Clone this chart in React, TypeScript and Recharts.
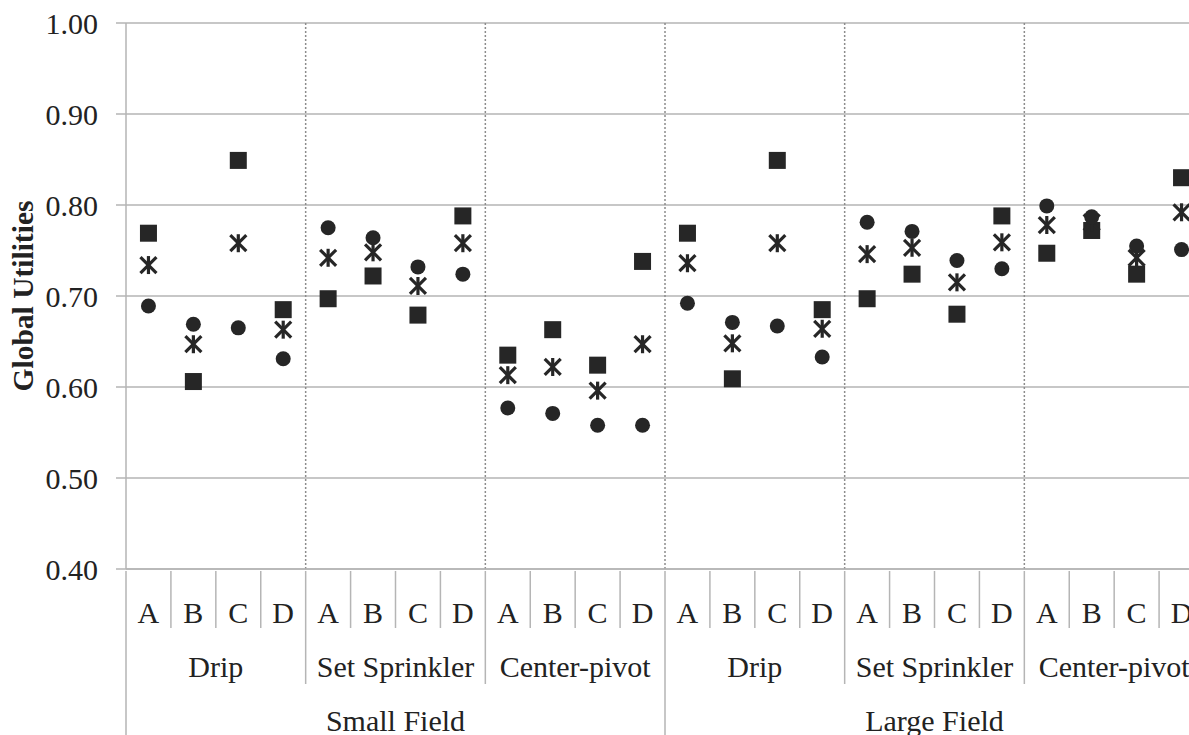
import { ComposedChart, Line, XAxis, YAxis, CartesianGrid } from 'recharts';

const fields = ['Small Field', 'Large Field'];
const systems = ['Drip', 'Set Sprinkler', 'Center-pivot'];
const options = ['A', 'B', 'C', 'D'];

// squares, stars and circles, read left to right (small field first)
const squareValues = [
  0.769, 0.606, 0.849, 0.685, 0.697, 0.722, 0.679, 0.788, 0.635, 0.663, 0.624, 0.738,
  0.769, 0.609, 0.849, 0.685, 0.697, 0.724, 0.680, 0.788, 0.747, 0.772, 0.724, 0.830,
];
const starValues = [
  0.734, 0.647, 0.758, 0.663, 0.742, 0.748, 0.711, 0.758, 0.613, 0.622, 0.596, 0.647,
  0.736, 0.648, 0.758, 0.664, 0.746, 0.753, 0.715, 0.759, 0.778, 0.781, 0.742, 0.792,
];
const circleValues = [
  0.689, 0.669, 0.665, 0.631, 0.775, 0.764, 0.732, 0.724, 0.577, 0.571, 0.558, 0.558,
  0.692, 0.671, 0.667, 0.633, 0.781, 0.771, 0.739, 0.730, 0.799, 0.787, 0.755, 0.751,
];
const yTicks = [0.4, 0.5, 0.6, 0.7, 0.8, 0.9, 1.0];

const data: any[] = [];
fields.forEach((f) =>
  systems.forEach((s) =>
    options.forEach((o) => {
      const i = data.length;
      data.push({
        key: `${f}|${s}|${o}`,
        field: f,
        system: s,
        option: o,
        square: squareValues[i],
        star: starValues[i],
        circle: circleValues[i],
      });
    })
  )
);

const W = 1210;
const H = 735;
const M = { top: 23, right: 6, left: 0, bottom: 0 };
const Y_W = 126;
const X_H = 166;
const band = (W - M.left - M.right - Y_W) / data.length;

const FONT = '"Liberation Serif", "Times New Roman", serif';
const INK = '#262626';
const GRID = '#b5b5b5';
const FS = 30;

const squareDot = (p: any) => (
  <rect key={`sq-${p.index}`} x={p.cx - 8.5} y={p.cy - 8.5} width={17} height={17} fill={INK} />
);
const circleDot = (p: any) => (
  <circle key={`ci-${p.index}`} cx={p.cx} cy={p.cy} r={7.5} fill={INK} />
);
const starDot = (p: any) => (
  <g key={`st-${p.index}`} stroke={INK} strokeWidth={3.2}>
    <line x1={p.cx - 8} y1={p.cy - 8} x2={p.cx + 8} y2={p.cy + 8} />
    <line x1={p.cx - 8} y1={p.cy + 8} x2={p.cx + 8} y2={p.cy - 8} />
    <line x1={p.cx} y1={p.cy - 9} x2={p.cx} y2={p.cy + 9} />
  </g>
);

function CategoryTick(props: any) {
  const { x, y, payload } = props;
  const i = payload.index;
  const d = data[i];
  const left = x - band / 2;
  let sepBottom = 57;
  if (i % 4 === 0) sepBottom = 113;
  if (i % 12 === 0) sepBottom = 170;
  return (
    <g>
      <line x1={left} y1={y} x2={left} y2={y + sepBottom} stroke={GRID} strokeWidth={1.5} />
      <text x={x} y={y + 52} textAnchor="middle" fontSize={FS} fontFamily={FONT} fill="#222">
        {d.option}
      </text>
      {i % 4 === 1 && (
        <text x={x + band / 2} y={y + 106} textAnchor="middle" fontSize={FS} fontFamily={FONT} fill="#222">
          {d.system}
        </text>
      )}
      {i % 12 === 5 && (
        <text x={x + band / 2} y={y + 160} textAnchor="middle" fontSize={FS} fontFamily={FONT} fill="#222">
          {d.field}
        </text>
      )}
    </g>
  );
}

const YLabel = (p: any) => {
  const vb = p.viewBox;
  const cy = vb.y + vb.height / 2;
  return (
    <text
      x={33}
      y={cy}
      transform={`rotate(-90, 33, ${cy})`}
      textAnchor="middle"
      fontSize={29.5}
      fontWeight="bold"
      fontFamily={FONT}
      fill="#222"
    >
      Global Utilities
    </text>
  );
};

export default function App() {
  return (
    <div
      style={{
        position: 'fixed',
        left: 0,
        top: 0,
        width: 1189,
        height: 735,
        overflow: 'hidden',
        background: '#fff',
      }}
    >
      <ComposedChart width={W} height={H} data={data} margin={M}>
        <CartesianGrid vertical={false} stroke={GRID} strokeWidth={1.5} />
        <CartesianGrid
          horizontal={false}
          stroke="#8c8c8c"
          strokeWidth={1.5}
          strokeDasharray="2 2"
          verticalCoordinatesGenerator={({ offset }: any) =>
            [4, 8, 12, 16, 20].map((k) => offset.left + (offset.width * k) / data.length)
          }
        />
        <XAxis
          dataKey="key"
          scale="band"
          interval={0}
          height={X_H}
          tickLine={false}
          tickSize={0}
          axisLine={{ stroke: GRID, strokeWidth: 1.5 }}
          tick={<CategoryTick />}
        />
        <YAxis
          width={Y_W}
          domain={[0.4, 1.0]}
          ticks={yTicks}
          interval={0}
          tickFormatter={(v: number) => v.toFixed(2)}
          tickSize={10}
          tickMargin={18}
          tickLine={{ stroke: GRID, strokeWidth: 1.5 }}
          axisLine={{ stroke: GRID, strokeWidth: 1.5 }}
          tick={{ fontSize: FS, fontFamily: FONT, fill: '#222' }}
          label={<YLabel />}
        />
        <Line dataKey="square" stroke="none" dot={squareDot} activeDot={false} isAnimationActive={false} />
        <Line dataKey="star" stroke="none" dot={starDot} activeDot={false} isAnimationActive={false} />
        <Line dataKey="circle" stroke="none" dot={circleDot} activeDot={false} isAnimationActive={false} />
      </ComposedChart>
    </div>
  );
}
